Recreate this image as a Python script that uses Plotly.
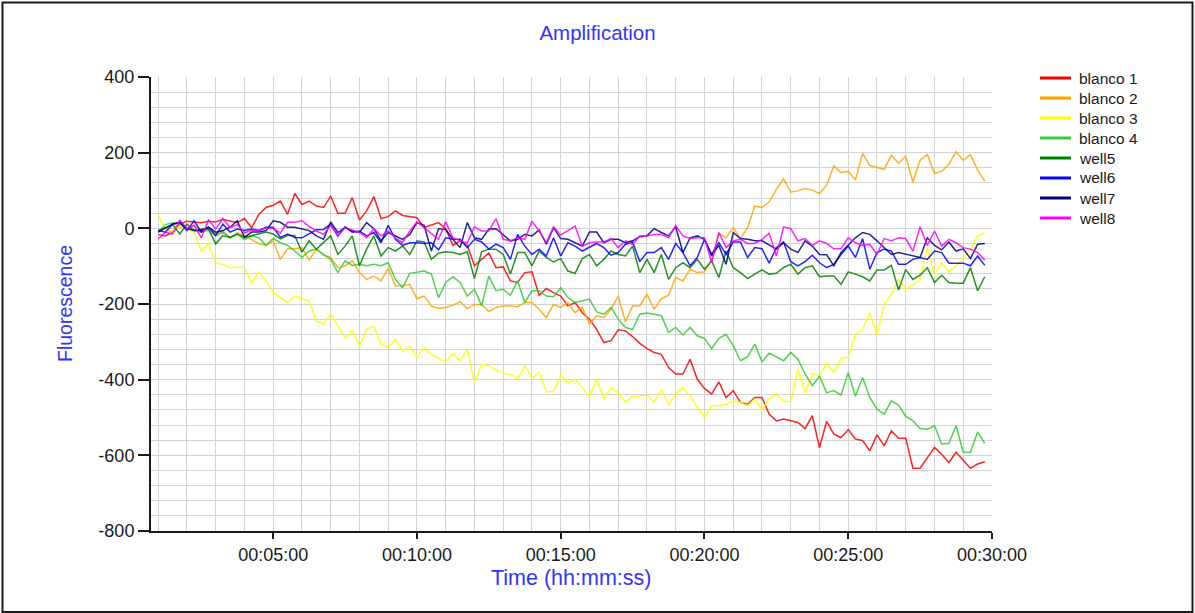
import plotly.graph_objects as go

# Sampling: one reading every 15 s, from 00:01:00 to 00:29:45
start_s = 60
step_s = 15
n_points = 116
time_s = [start_s + step_s * i for i in range(n_points)]

blanco_1 = [
    -16, -20, -11, 11, 19, 17, 15, 19, 17, 24, 19, 15, 26, 2, 37, 55, 61, 72, 37, 92, 63, 72, 59,
    55, 85, 40, 40, 81, 22, 46, 84, 26, 31, 46, 34, 31, 28, 2, 8, 15, -1, -45, -33, -45, -99, -82, -65,
    -104, -102, -139, -143, -117, -115, -177, -159, -170, -179, -205, -196, -223, -240, -267, -302, -297, -268, -271, -286, -304, -318, -328,
    -333, -368, -385, -385, -346, -399, -423, -438, -406, -447, -429, -460, -465, -447, -447, -491, -509, -504, -509, -513, -529, -495, -580,
    -510, -544, -553, -532, -557, -561, -588, -546, -575, -535, -555, -555, -634, -634, -605, -579, -597, -619, -592, -614, -634, -623, -617,
]
blanco_2 = [
    -7, 2, -11, 6, -3, 6, -3, 2, -16, -7, -25, -11, -20, -29, -40, -45, -33, -82, -54, -54, -51, -84, -55,
    -71, -77, -104, -99, -86, -117, -135, -126, -139, -106, -152, -152, -148, -186, -179, -205, -212, -209, -203, -194, -212, -201, -201, -220,
    -209, -205, -205, -207, -196, -196, -214, -236, -201, -209, -196, -223, -209, -253, -231, -236, -214, -179, -247, -205, -205, -174, -214,
    -186, -177, -130, -139, -108, -117, -115, -82, -13, -25, 2, -27, 2, 59, 55, 70, 103, 131, 96, 99, 105, 101, 92,
    114, 165, 147, 151, 128, 198, 166, 160, 156, 193, 172, 191, 122, 180, 195, 145, 151, 169, 202, 180, 195, 154, 125,
]
blanco_3 = [
    34, -1, -7, 6, -1, -11, -60, -40, -91, -95, -104, -102, -104, -145, -115, -139, -170, -183, -196, -180, -186, -192, -245,
    -253, -227, -258, -289, -271, -311, -267, -258, -306, -315, -293, -324, -311, -341, -315, -333, -344, -353, -330, -350, -321, -407, -359, -364,
    -374, -384, -385, -398, -363, -396, -381, -432, -432, -388, -409, -399, -421, -445, -397, -451, -421, -434, -460, -444, -443, -441, -458,
    -427, -467, -436, -421, -443, -473, -500, -469, -469, -465, -456, -460, -469, -451, -480, -450, -438, -458, -458, -372, -434, -385, -390,
    -356, -381, -344, -341, -280, -267, -223, -283, -201, -174, -135, -161, -150, -136, -51, -121, -91, -115, -99, -80, -55, -20, -11,
]
blanco_4 = [
    -10, 10, 15, 12, 0, -5, -10, -5, -20, -10, -25, -15, -30, -20, -25, -45, -27, -38, -45, -60, -77, -60, -55,
    -69, -82, -117, -86, -98, -95, -99, -95, -99, -91, -135, -157, -119, -117, -113, -121, -183, -143, -128, -143, -179, -161, -205, -126,
    -165, -161, -177, -139, -196, -165, -165, -179, -181, -157, -183, -196, -192, -187, -221, -227, -209, -240, -262, -267, -227, -224, -227,
    -231, -275, -262, -282, -262, -284, -291, -318, -291, -280, -310, -350, -339, -306, -353, -330, -339, -350, -328, -346, -385, -416, -390,
    -435, -429, -441, -381, -444, -394, -447, -478, -491, -456, -467, -497, -509, -529, -531, -522, -570, -568, -522, -592, -592, -538, -568,
]
well_5 = [
    -6, 3, 10, -15, 11, -6, -2, -2, -41, -19, -24, -15, -24, -19, -15, -10, -15, -28, -19, -19, -63, -33, -55,
    -38, -20, -69, -47, -20, -99, -55, -20, -73, -51, -60, -47, -69, -33, -36, -82, -66, -62, -64, -69, -62, -133, -62, -55,
    -55, -69, -121, -64, -64, -99, -60, -77, -89, -80, -113, -119, -80, -69, -99, -82, -60, -69, -73, -47, -117, -82, -117,
    -69, -135, -104, -91, -104, -82, -108, -86, -130, -60, -104, -117, -133, -121, -110, -121, -119, -104, -95, -121, -104, -99, -128,
    -126, -126, -148, -115, -121, -128, -139, -110, -110, -98, -163, -109, -135, -124, -104, -143, -124, -143, -145, -145, -104, -165, -128,
]
well_6 = [
    -6, -10, 11, 16, -6, 20, -10, 3, -19, 11, -10, -2, -6, -2, -6, 3, 3, -24, -15, -24, -25, -15, -4,
    -3, 11, -20, 4, -10, -7, -20, -11, -38, 8, -29, -45, -38, -38, -40, -38, -57, -25, -29, -29, -51, -29, -36, -55,
    -42, -51, -82, -16, -47, -69, -55, -73, -25, -73, -38, -47, -60, -51, -40, -51, -71, -64, -42, -36, -88, -64, -64,
    -51, -82, -40, -64, -99, -77, -29, -69, -38, -69, -36, -36, -77, -51, -54, -92, -51, -36, -88, -99, -88, -71, -91,
    -104, -95, -69, -47, -77, -27, -108, -64, -55, -60, -95, -95, -82, -77, -82, -60, -64, -92, -92, -92, -99, -73, -98,
]
well_7 = [
    -10, 0, 11, 16, 0, -6, -6, 3, -10, -6, 3, 20, -24, -10, -10, -6, 20, 16, 3, 3, -2, -6, -20,
    -29, 17, -11, 2, -7, -11, 15, -1, -33, -11, -20, -29, -16, 15, 8, -60, -1, -3, -29, -51, 15, -25, -29, -2,
    -1, -16, -33, -29, -16, -20, -4, -42, 2, -27, -29, -38, -47, -10, -10, -38, -29, -29, -38, -33, -22, -20, -1,
    -11, -20, 4, -64, -25, -20, -29, -73, -45, -95, -11, -27, -29, -33, -33, -45, -55, -38, -55, -64, -33, -47, -69,
    -70, -99, -64, -45, -25, -11, -16, -33, -51, -69, -64, -69, -73, -77, -25, -45, -57, -36, -60, -54, -80, -42, -40,
]
well_8 = [
    -28, -10, -15, 22, 0, 8, -25, 22, -2, 26, 2, 10, -12, -5, -5, 0, 0, -12, 16, 16, 20, 5, -7,
    -16, 8, -20, 2, -4, -11, -25, -1, -20, -7, -25, -38, -7, 17, 2, -13, -29, 17, -25, -33, -38, 4, -7, -7,
    26, -29, -33, -25, -29, 19, -7, -38, 4, -18, -7, 6, -47, -38, -36, -36, -27, -51, -33, -42, -20, -20, -16,
    -16, -25, 8, -20, -27, -25, -25, -91, -11, -51, -33, -29, -40, -40, -29, -13, -73, 4, -1, -33, -27, -45, -33,
    -40, -54, -54, -25, -38, -45, -42, -69, -27, -33, -25, -27, -60, 4, -45, -7, -47, -29, -38, -51, -55, -64, -84,
]

series_names = ["blanco 1", "blanco 2", "blanco 3", "blanco 4", "well5", "well6", "well7", "well8"]
series_values = [blanco_1, blanco_2, blanco_3, blanco_4, well_5, well_6, well_7, well_8]
series_colors = ["#ff0000", "#ffa500", "#ffff00", "#32cd32", "#008000", "#0000ff", "#000080", "#ff00ff"]

y_ticks = [-800, -600, -400, -200, 0, 200, 400]
y_tick_labels = ["-800", "-600", "-400", "-200", "0", "200", "400"]


def clock(seconds):
    h, rem = divmod(int(seconds), 3600)
    m, s = divmod(rem, 60)
    return f"2000-01-01 {h:02d}:{m:02d}:{s:02d}"


x_vals = [clock(s) for s in time_s]

# plot area in pixels (figure is 1195 x 613)
W, H = 1195, 613
L, R, T, B = 151, 992, 77, 531
pw, ph = R - L, B - T


def px(xp):
    return (xp - L) / pw


def py(yp):
    return (B - yp) / ph


fig = go.Figure()

for name, vals, col in zip(series_names, series_values, series_colors):
    assert len(vals) == n_points
    fig.add_trace(go.Scatter(
        x=x_vals, y=vals, mode="lines", name=name,
        line=dict(color=col, width=1.5), opacity=0.85,
        showlegend=False, hoverinfo="x+y+name",
    ))

grid_col = "#d4d4d4"
title_col = "#3333ff"
text_col = "#1a1a1a"
font_fam = "Liberation Sans, Arial, sans-serif"

# legend box on the right: key line + label per series, 20 px apart
legend_shapes = []
legend_notes = []
for k, (name, col) in enumerate(zip(series_names, series_colors)):
    yk = 78 + 20 * k
    legend_shapes.append(dict(type="line", xref="paper", yref="paper",
                              x0=px(1040), x1=px(1071), y0=py(yk), y1=py(yk),
                              line=dict(color=col, width=3)))
    legend_notes.append(dict(text=name, xref="paper", yref="paper", x=px(1077), y=py(yk),
                             xanchor="left", yanchor="middle", showarrow=False,
                             font=dict(size=15.5, color=text_col)))

fig.update_layout(
    width=W, height=H,
    margin=dict(l=L, r=W - R, t=T, b=H - B, pad=0),
    paper_bgcolor="white", plot_bgcolor="white",
    font=dict(family=font_fam, size=18, color=text_col),
    title=dict(text="Amplification", x=0.5, xref="container", xanchor="center",
               y=1 - 33 / H, yref="container", yanchor="middle",
               font=dict(size=20.5, color=title_col, family=font_fam)),
    showlegend=False,
    xaxis=dict(
        type="date",
        range=[clock(45), clock(1800)],
        tickformat="%H:%M:%S",
        tick0=clock(0), dtick=300000,
        showgrid=True, gridcolor=grid_col, gridwidth=1.3,
        minor=dict(dtick=60000, tick0=clock(0), showgrid=True, gridcolor=grid_col, gridwidth=1.3),
        ticks="outside", ticklen=6, tickcolor=text_col, tickwidth=2,
        showline=True, linecolor=text_col, linewidth=2,
        zeroline=False, tickfont=dict(size=18),
    ),
    yaxis=dict(
        range=[-800, 400],
        tickvals=y_ticks, ticktext=y_tick_labels,
        showgrid=True, gridcolor=grid_col, gridwidth=1.3,
        minor=dict(dtick=40, tick0=0, showgrid=True, gridcolor=grid_col, gridwidth=1.3),
        ticks="outside", ticklen=11, tickcolor=text_col, tickwidth=2,
        showline=True, linecolor=text_col, linewidth=2,
        zeroline=False, tickfont=dict(size=18),
    ),
    annotations=[
        dict(text="Fluorescence", xref="paper", yref="paper", x=px(65), y=py(304),
             xanchor="center", yanchor="middle", textangle=-90, showarrow=False,
             font=dict(size=19.5, color=title_col)),
        dict(text="Time (hh:mm:ss)", xref="paper", yref="paper", x=px(571), y=py(578),
             xanchor="center", yanchor="middle", showarrow=False,
             font=dict(size=21.5, color=title_col)),
    ] + legend_notes,
    shapes=[
        dict(type="rect", xref="paper", yref="paper",
             x0=px(2.5), x1=px(1192.5), y0=py(612), y1=py(2.5),
             line=dict(color=text_col, width=2), layer="above"),
    ] + legend_shapes,
)

fig.write_html("out.html")
